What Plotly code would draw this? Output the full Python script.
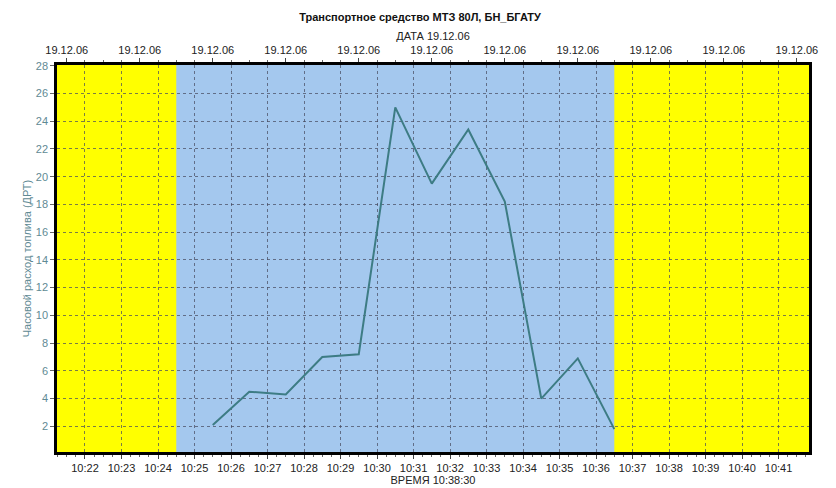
import plotly.graph_objects as go

# Data
times = ["2006-12-19 10:25:30", "2006-12-19 10:26:30", "2006-12-19 10:27:30",
         "2006-12-19 10:28:30", "2006-12-19 10:29:30", "2006-12-19 10:30:30",
         "2006-12-19 10:31:30", "2006-12-19 10:32:30", "2006-12-19 10:33:30",
         "2006-12-19 10:34:30", "2006-12-19 10:35:30", "2006-12-19 10:36:30"]
fuel = [2.1, 4.5, 4.3, 7.0, 7.2, 25.0, 19.5, 23.4, 18.2, 4.0, 6.9, 1.8]

active_start = "2006-12-19 10:24:30"
active_end = "2006-12-19 10:36:30"
x_range = ["2006-12-19 10:21:14", "2006-12-19 10:41:50"]
y_range = [0.15, 28.05]

bottom_tickvals = ["2006-12-19 10:%02d:00" % m for m in range(22, 42)]
bottom_ticktext = ["10:%02d" % m for m in range(22, 42)]
top_tickvals = ["2006-12-19 10:%02d:30" % m for m in range(21, 42, 2)]
top_ticktext = ["19.12.06"] * len(top_tickvals)
y_tickvals = list(range(2, 29, 2))

title_text = "<b>Транспортное средство МТЗ 80Л, БН_БГАТУ</b>"
x_title = "ВРЕМЯ 10:38:30"
x2_title = "ДАТА 19.12.06"
y_title = "Часовой расход топлива (ДРТ)"

font_family = "Liberation Sans, Arial, sans-serif"
grid_color = "rgba(70,75,95,0.72)"

# the page body has an 8px margin, so the figure is sized to fit the window
W, H = 828, 480

fig = go.Figure()
fig.add_trace(go.Scatter(x=times, y=fuel, mode="lines",
                         line=dict(color="#3d7c84", width=2),
                         hoverinfo="x+y", showlegend=False))
# invisible trace to bind the top axis
fig.add_trace(go.Scatter(x=x_range, y=[None, None], xaxis="x2", mode="lines",
                         showlegend=False, hoverinfo="skip"))

fig.add_shape(type="rect", xref="x", yref="paper", x0=active_start, x1=active_end,
              y0=0, y1=1, fillcolor="#a4c8ee", line=dict(width=0), layer="below")

fig.update_layout(
    width=W, height=H,
    margin=dict(l=49, r=27, t=57, b=36, autoexpand=False),
    paper_bgcolor="white",
    plot_bgcolor="#ffff00",
    font=dict(family=font_family, size=11, color="#222222"),
    title=dict(text=title_text, x=412 / W, xanchor="center", xref="container",
               y=1 - 9 / H, yanchor="middle", yref="container",
               font=dict(size=11, color="#111111", family=font_family)),
    xaxis=dict(type="date", range=x_range, tickmode="array", automargin=False,
               tickvals=bottom_tickvals, ticktext=bottom_ticktext,
               showgrid=True, gridcolor=grid_color, griddash="3px,3px", gridwidth=1,
               showline=True, linecolor="black", linewidth=2.5, mirror=False,
               ticks="outside", ticklen=4, tickcolor="#444",
               minor=dict(dtick=15000, ticks="outside", ticklen=2, tickcolor="#666",
                          showgrid=False),
               tickfont=dict(size=11, color="#222"),
               title=dict(text=x_title, standoff=1, font=dict(size=11, color="#222")),
               zeroline=False, fixedrange=True),
    xaxis2=dict(type="date", range=x_range, overlaying="x", side="top", automargin=False,
                tickmode="array", tickvals=top_tickvals, ticktext=top_ticktext,
                showgrid=False, showline=True, linecolor="black", linewidth=2.5,
                ticks="outside", ticklen=4, tickcolor="#444",
                minor=dict(dtick=30000, ticks="outside", ticklen=2, tickcolor="#666"),
                tickfont=dict(size=11, color="#222"),
                title=dict(text=x2_title, standoff=1, font=dict(size=11, color="#222")),
                zeroline=False),
    yaxis=dict(range=y_range, tickmode="array", tickvals=y_tickvals, automargin=False,
               showgrid=True, gridcolor=grid_color, griddash="3px,3px", gridwidth=1,
               showline=True, linecolor="black", linewidth=2.5, mirror=True,
               ticks="outside", ticklen=4, tickcolor="#666",
               tickfont=dict(size=11, color="#5f8a94"),
               title=dict(text=y_title, standoff=2, font=dict(size=11, color="#5f8a94")),
               zeroline=False),
)

fig.write_html("out.html")
